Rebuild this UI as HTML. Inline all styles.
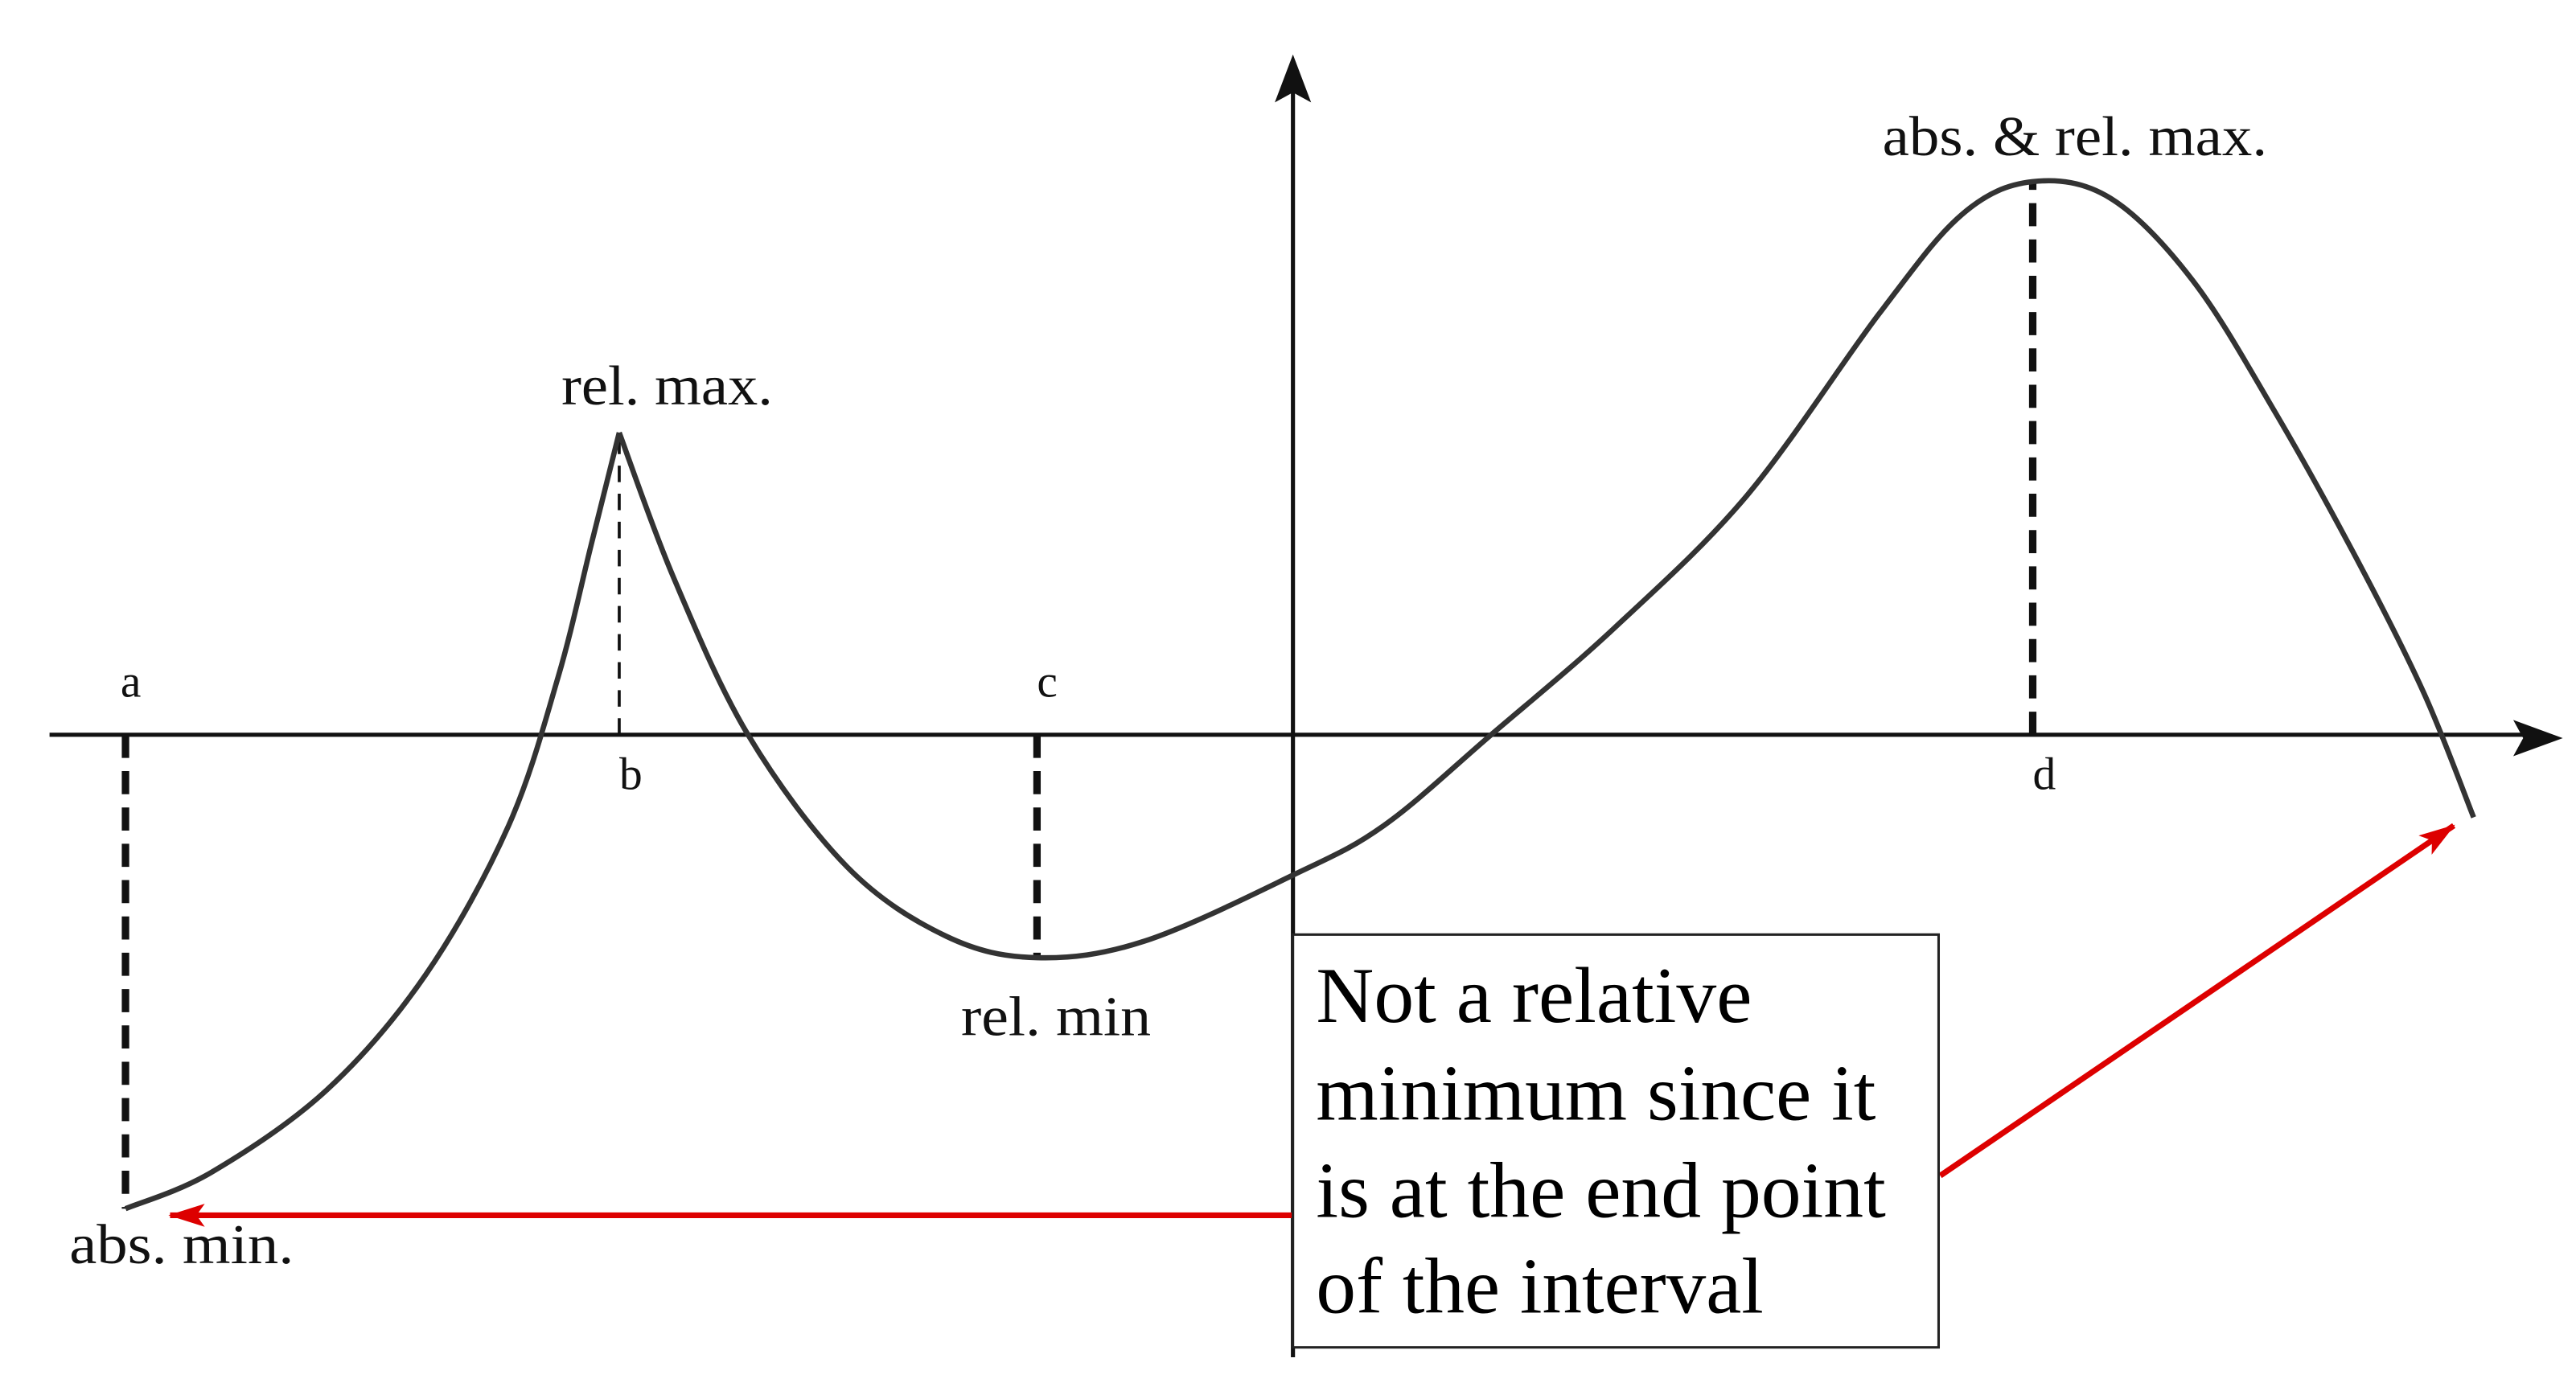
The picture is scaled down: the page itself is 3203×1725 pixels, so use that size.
<!DOCTYPE html>
<html><head><meta charset="utf-8"><style>
html,body{margin:0;padding:0;background:#fff;}
svg{display:block;}
</style></head><body>
<svg id="chart" width="3203" height="1725" viewBox="0 0 1560 840" preserveAspectRatio="none" xmlns="http://www.w3.org/2000/svg">
<defs>
<marker id="red-head" markerWidth="22" markerHeight="14" refX="21" refY="7" orient="auto" markerUnits="userSpaceOnUse"><path d="M0,0 L22,7 L0,14 L5,7 z" fill="#d00"/></marker>
</defs>
<g id="axes">
<line x1="30" y1="445" x2="1530" y2="445" stroke="#111" stroke-width="2.5"/>
<path d="M1552,447 L1522,436 L1528,447 L1522,458 z" fill="#111"/>
<line x1="783" y1="55" x2="783" y2="822" stroke="#111" stroke-width="2.5"/>
<path d="M783,33 L772,62 L783,56 L794,62 z" fill="#111"/>
</g>
<g id="dashes"></g>
<path id="curve" fill="none" stroke="#333" stroke-width="3.2" stroke-linejoin="round"/>
<g font-family="'Liberation Serif', serif" font-size="34" fill="#111" text-anchor="start">
<text x="73" y="422" font-size="28">a</text>
<text x="375" y="478" font-size="28">b</text>
<text x="628" y="422" font-size="28">c</text>
<text x="1231" y="478" font-size="28">d</text>
<text x="340" y="245" textLength="128" lengthAdjust="spacingAndGlyphs">rel. max.</text>
<text x="582" y="627" textLength="115" lengthAdjust="spacingAndGlyphs">rel. min</text>
<text x="42" y="765" textLength="136" lengthAdjust="spacingAndGlyphs">abs. min.</text>
<text x="1140" y="94" textLength="233" lengthAdjust="spacingAndGlyphs">abs. &amp; rel. max.</text>
</g>
<line x1="783" y1="736" x2="103" y2="736" stroke="#d00" stroke-width="3.5" marker-end="url(#red-head)"/>
<line x1="1175" y1="712" x2="1486" y2="500" stroke="#d00" stroke-width="3.5" marker-end="url(#red-head)"/>
<g>
<rect x="783" y="566" width="391" height="250" fill="#fff" stroke="#222" stroke-width="1.5"/>
<g font-family="'Liberation Serif', serif" font-size="48" fill="#000">
<text x="797" y="619" textLength="264" lengthAdjust="spacingAndGlyphs">Not a relative</text>
<text x="797" y="678" textLength="339" lengthAdjust="spacingAndGlyphs">minimum since it</text>
<text x="797" y="737" textLength="345" lengthAdjust="spacingAndGlyphs">is at the end point</text>
<text x="797" y="795" textLength="271" lengthAdjust="spacingAndGlyphs">of the interval</text>
</g>
</g>
</svg>
<script>
const xs = [-7.07,-6.55,-5.85,-5.25,-4.75,-4.45,-4.25,-4.08,-3.75,-3.3,-2.7,-2.1,-1.55,-0.9,0,0.55,1.2,1.95,2.75,3.55,4.05,4.48,4.95,5.45,5.95,6.45,6.85,7.15];
const ys = [-2.87,-2.65,-2.15,-1.45,-0.55,0.35,1.15,1.83,0.95,0,-0.8,-1.22,-1.35,-1.25,-0.85,-0.55,0,0.65,1.45,2.55,3.15,3.35,3.25,2.75,1.95,1.05,0.25,-0.5];
const cuspIndex = 7;
const dashXs = [-7.07,-4.08,-1.55,4.48];
const dashYs = [-2.87,1.83,-1.35,3.35];
const dashThin = [false,true,false,false];
function X(v){return 783+v*100;}
function Y(v){return 445-v*100;}
function seg(pts){
  let d='M'+pts[0][0]+','+pts[0][1];
  for(let i=0;i<pts.length-1;i++){
    const p0=pts[Math.max(0,i-1)],p1=pts[i],p2=pts[i+1],p3=pts[Math.min(pts.length-1,i+2)];
    const c1=[p1[0]+(p2[0]-p0[0])/6,p1[1]+(p2[1]-p0[1])/6];
    const c2=[p2[0]-(p3[0]-p1[0])/6,p2[1]-(p3[1]-p1[1])/6];
    d+=' C'+c1.join(',')+' '+c2.join(',')+' '+p2.join(',');
  }
  return d;
}
const pts=xs.map((x,i)=>[X(x),Y(ys[i])]);
document.getElementById('curve').setAttribute('d',seg(pts.slice(0,cuspIndex+1))+' '+seg(pts.slice(cuspIndex)));
const g=document.getElementById('dashes');
dashXs.forEach((x,i)=>{
  const l=document.createElementNS('http://www.w3.org/2000/svg','line');
  
  
  l.setAttribute('x1',X(x));l.setAttribute('x2',X(x));
  l.setAttribute('y1',Y(0));l.setAttribute('y2',Y(dashYs[i]));
  l.setAttribute('stroke','#111');
  l.setAttribute('stroke-width',dashThin[i]?1.8:4.5);
  l.setAttribute('stroke-dasharray',dashThin[i]?'10,7':'14,8');
  g.appendChild(l);
});
</script>
</body></html>
